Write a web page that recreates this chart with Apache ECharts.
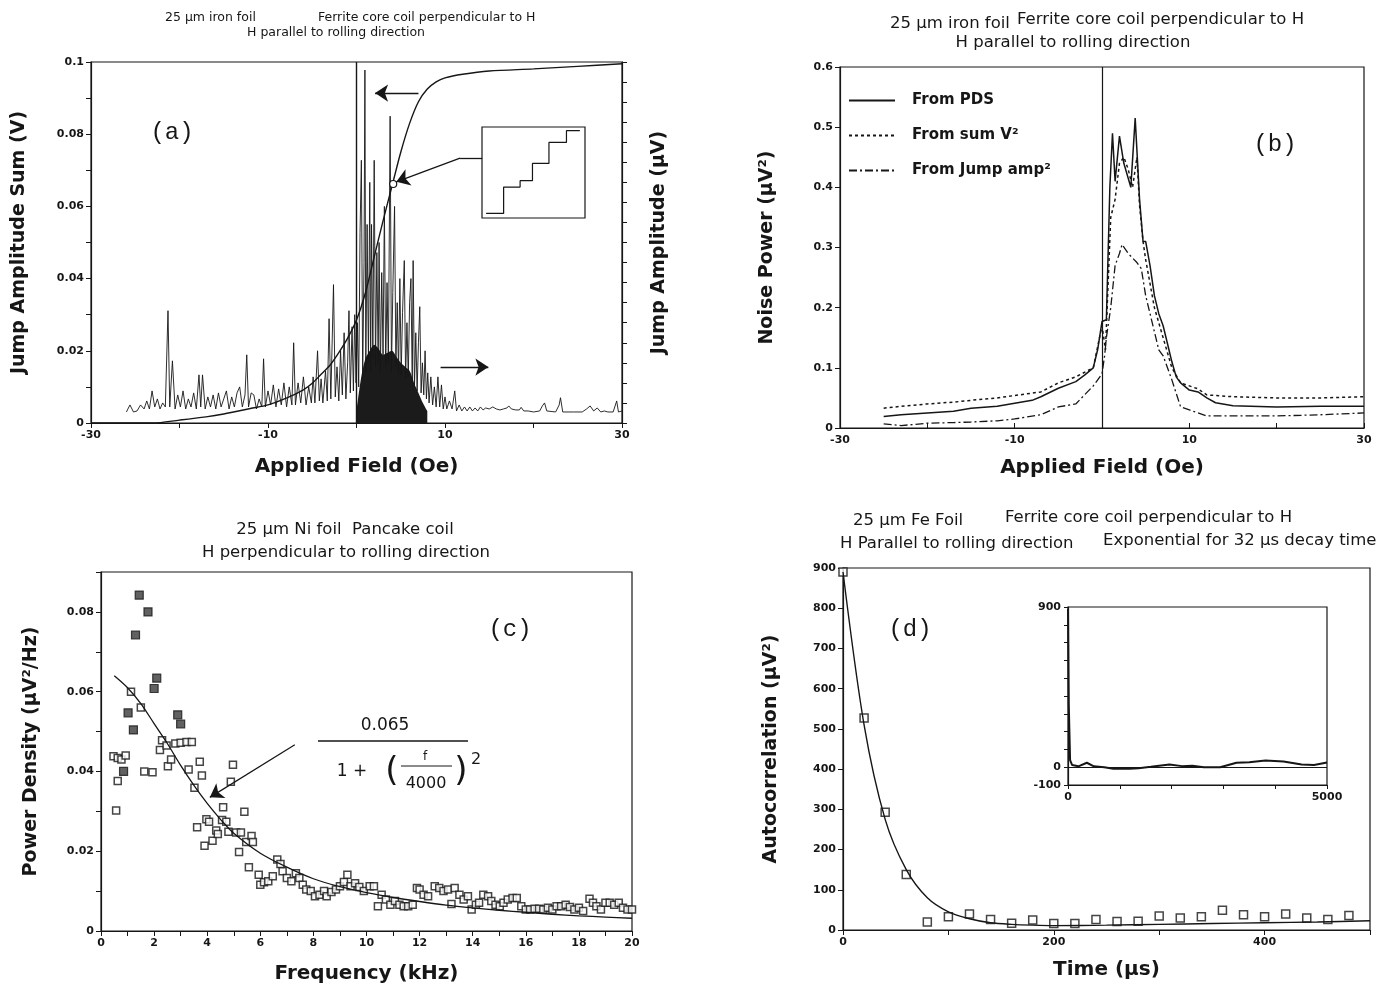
<!DOCTYPE html>
<html>
<head>
<meta charset="utf-8">
<title>Barkhausen noise - four panels</title>
<script src="https://cdn.jsdelivr.net/npm/echarts@6/dist/echarts.min.js"></script>
<style>
  html, body { margin: 0; padding: 0; background: #ffffff; }
  #chart { width: 1388px; height: 985px; }
</style>
</head>
<body>
<div id="chart"></div>
<script>
// ---- panel (a): jump amplitude sum (V) and individual jumps ----
const cumField = [-30, -23, -20, -17, -15, -12, -10, -8, -6, -5, -4, -3, -2, -1, 0, 1, 2, 3, 4, 5, 6, 7, 8, 9, 10, 12, 15, 20, 25, 30];
const cumSum = [0, 0, 0.0008, 0.0017, 0.0025, 0.004, 0.005, 0.0068, 0.0092, 0.011, 0.0135, 0.016, 0.0195, 0.0235, 0.0285, 0.036, 0.046, 0.056, 0.0655, 0.075, 0.083, 0.089, 0.0925, 0.0945, 0.0956, 0.0966, 0.0975, 0.0981, 0.0988, 0.0995];

// jump amplitudes, right axis units (0..18 over the axis height)
const jumpLeft = [
  [-26, 0.55], [-25.6, 0.9], [-25.2, 0.55], [-24.8, 0.6], [-24.4, 0.9], [-24, 0.7], [-23.7, 1.1], [-23.4, 0.7],
  [-23.1, 1.6], [-22.8, 0.8], [-22.5, 1.2], [-22.2, 0.7], [-21.9, 1.0], [-21.6, 0.8], [-21.3, 5.6], [-21.1, 0.8],
  [-20.8, 3.1], [-20.5, 0.7], [-20.2, 1.4], [-19.9, 0.8], [-19.6, 1.6], [-19.3, 0.7], [-19, 1.2], [-18.7, 0.8],
  [-18.4, 1.5], [-18.1, 0.7], [-17.8, 2.4], [-17.6, 0.8], [-17.4, 2.4], [-17.1, 0.7], [-16.8, 1.3], [-16.5, 0.8],
  [-16.2, 1.4], [-15.9, 0.7], [-15.6, 1.5], [-15.3, 0.8], [-15, 1.2], [-14.7, 1.6], [-14.4, 0.7], [-14.1, 1.3],
  [-13.8, 0.8], [-13.5, 1.5], [-13.2, 1.8], [-12.9, 0.8], [-12.6, 1.4], [-12.4, 3.4], [-12.2, 0.8], [-11.9, 1.5],
  [-11.6, 1.4], [-11.3, 0.7], [-11, 1.2], [-10.7, 0.8], [-10.5, 3.2], [-10.3, 0.8], [-10, 1.6], [-9.7, 0.9],
  [-9.4, 1.9], [-9.1, 0.8], [-8.8, 1.7], [-8.5, 0.9], [-8.2, 2.0], [-7.9, 0.8], [-7.6, 1.8], [-7.3, 0.9],
  [-7.1, 4.0], [-6.9, 0.9], [-6.6, 2.0], [-6.3, 1.0], [-6, 2.3], [-5.7, 0.9], [-5.4, 1.8], [-5.1, 1.0],
  [-4.9, 2.3], [-4.7, 1.0], [-4.4, 3.6], [-4.2, 1.1], [-4, 2.2], [-3.8, 1.0], [-3.5, 2.6], [-3.3, 1.1],
  [-3.1, 5.2], [-2.9, 1.2], [-2.6, 6.9], [-2.4, 1.3], [-2.2, 2.8], [-2.0, 1.1], [-1.8, 3.6], [-1.6, 1.4],
  [-1.4, 4.5], [-1.2, 1.2], [-1, 3.0], [-0.85, 5.6], [-0.7, 1.5], [-0.5, 4.8], [-0.35, 1.6], [-0.2, 5.4], [-0.05, 2.0]
];
const jumpCentre = [
  [0.1, 5.0], [0.25, 1.8], [0.4, 9.5], [0.55, 13.1], [0.7, 2.2], [0.85, 8.0], [0.95, 17.6], [1.05, 2.5],
  [1.2, 9.9], [1.35, 3.0], [1.5, 12.0], [1.6, 2.6], [1.7, 9.9], [1.85, 3.2], [2.0, 13.1], [2.15, 2.8],
  [2.3, 8.5], [2.45, 3.0], [2.55, 9.0], [2.7, 2.6], [2.85, 7.5], [3.0, 3.4], [3.15, 10.8], [3.3, 2.8],
  [3.45, 7.0], [3.6, 3.0], [3.8, 15.3], [3.95, 2.6], [4.1, 6.5], [4.3, 10.8], [4.45, 2.8], [4.6, 6.0],
  [4.75, 2.5], [4.9, 7.2], [5.05, 2.4], [5.2, 5.5], [5.4, 8.1], [5.55, 2.2], [5.7, 5.0], [5.85, 2.3],
  [6.0, 6.0], [6.15, 7.2], [6.3, 2.0], [6.4, 8.1], [6.55, 1.8], [6.7, 4.5], [6.85, 1.6], [7.0, 4.0],
  [7.15, 5.8], [7.3, 1.5], [7.45, 3.0], [7.6, 1.4], [7.75, 3.6], [7.9, 1.2], [8.05, 2.5], [8.2, 1.0],
  [8.4, 2.3], [8.6, 0.9], [8.8, 1.8], [9.0, 0.8], [9.2, 2.3], [9.4, 0.8], [9.6, 1.9], [9.8, 0.7],
  [10.0, 1.3], [10.2, 0.7], [10.5, 1.1], [10.8, 0.7], [11.1, 1.6], [11.3, 0.6], [11.6, 0.9], [11.9, 0.6]
];
const jumpRight = [
  [12.2, 0.8], [12.5, 0.6], [12.8, 0.8], [13.1, 0.6], [13.4, 0.75], [13.7, 0.6], [14.0, 0.8], [14.3, 0.65],
  [14.6, 0.75], [15.0, 0.7], [15.4, 0.8], [15.8, 0.7], [16.2, 0.65], [16.6, 0.7], [17.0, 0.75], [17.2, 0.85],
  [17.5, 0.7], [18.0, 0.65], [18.4, 0.65], [18.6, 0.78], [18.9, 0.6], [19.4, 0.6], [20.0, 0.55], [20.7, 0.6],
  [21.0, 0.85], [21.25, 1.0], [21.5, 0.6], [22.5, 0.55], [22.9, 0.9], [23.05, 1.26], [23.3, 0.55], [24.5, 0.55],
  [25.5, 0.55], [26.0, 0.7], [26.4, 0.85], [26.8, 0.6], [27.2, 0.75], [27.6, 0.55], [28.0, 0.6], [28.4, 0.55],
  [29.0, 0.55], [29.4, 1.1], [29.6, 0.55], [30, 0.6]
];
// top of the solid dark core under the dense spikes (right axis units)
const coreField = [0, 0.5, 1, 1.5, 2, 2.5, 3, 3.5, 4, 4.5, 5, 5.5, 6, 6.5, 7, 7.5, 8];
const coreTop = [0.6, 2.2, 3.2, 3.6, 3.9, 3.7, 3.4, 3.5, 3.6, 3.3, 3.0, 2.8, 2.6, 2.0, 1.5, 1.0, 0.6];

// staircase sketch in the small box (arbitrary units 0..10)
const stairX = [0.4, 2.1, 2.1, 3.7, 3.7, 4.9, 4.9, 6.5, 6.5, 8.2, 8.2, 9.5];
const stairY = [0.5, 0.5, 3.4, 3.4, 4.1, 4.1, 6.0, 6.0, 8.3, 8.3, 9.6, 9.6];

// ---- panel (b): noise power (uV^2) ----
const pdsField = [-25, -23, -20, -17, -15, -12, -10, -8, -7, -5, -3, -2, -1, -0.5, 0, 0.5, 0.9, 1.2, 1.5, 2, 2.5, 3.3, 3.8, 4.3, 4.7, 5, 5.5, 6, 6.5, 7, 7.5, 8, 8.5, 9, 10, 11, 12, 13, 15, 20, 25, 30];
const pdsPower = [0.019, 0.022, 0.025, 0.028, 0.033, 0.036, 0.041, 0.046, 0.052, 0.066, 0.077, 0.088, 0.1, 0.13, 0.177, 0.18, 0.4, 0.49, 0.41, 0.485, 0.44, 0.4, 0.515, 0.38, 0.31, 0.31, 0.27, 0.22, 0.19, 0.17, 0.14, 0.11, 0.085, 0.075, 0.063, 0.06, 0.05, 0.042, 0.037, 0.035, 0.036, 0.036];
const sumField = [-25, -23, -20, -17, -15, -12, -10, -7, -5, -3, -1, 0, 0.4, 1, 1.5, 2, 2.5, 3, 3.5, 4, 4.3, 4.7, 5, 6, 7, 8, 9, 10, 11, 12, 15, 20, 25, 30];
const sumPower = [0.033, 0.036, 0.04, 0.043, 0.046, 0.05, 0.054, 0.06, 0.075, 0.085, 0.1, 0.17, 0.13, 0.35, 0.38, 0.44, 0.45, 0.43, 0.4, 0.45, 0.37, 0.31, 0.28, 0.2, 0.15, 0.1, 0.075, 0.07, 0.065, 0.055, 0.052, 0.05, 0.05, 0.052];
const jumpField = [-25, -23, -20, -17, -15, -12, -10, -7, -5, -3, -1, 0, 0.3, 0.5, 1, 1.5, 2, 2.3, 3, 4, 4.5, 5, 6, 6.5, 7, 8, 9, 10, 12, 15, 20, 25, 30];
const jumpPower = [0.007, 0.004, 0.008, 0.009, 0.01, 0.012, 0.015, 0.022, 0.035, 0.04, 0.07, 0.09, 0.12, 0.15, 0.2, 0.27, 0.29, 0.305, 0.29, 0.275, 0.265, 0.22, 0.16, 0.13, 0.12, 0.08, 0.035, 0.03, 0.02, 0.02, 0.02, 0.022, 0.025];

// ---- panel (c): power density (uV^2/Hz) vs frequency (kHz) ----
const fitFreq = [0.5, 1, 1.5, 2, 2.5, 3, 3.5, 4, 4.5, 5, 6, 7, 8, 9, 10, 11, 12, 13, 14, 15, 16, 17, 18, 19, 20];
const fitDensity = [0.064, 0.061, 0.057, 0.052, 0.047, 0.0415, 0.0365, 0.032, 0.028, 0.0245, 0.0195, 0.016, 0.0131, 0.0111, 0.0096, 0.0084, 0.0074, 0.0065, 0.0058, 0.0052, 0.0047, 0.0042, 0.0038, 0.0035, 0.0032];
const filledPoints = [[1.44, 0.0842], [1.77, 0.080], [1.3, 0.0742], [2.1, 0.0634], [2.0, 0.0608], [1.02, 0.0547], [1.22, 0.0504], [2.89, 0.0542], [3.0, 0.0519], [0.85, 0.040]];
const openPoints = [
  [0.47, 0.0438], [0.63, 0.0434], [0.77, 0.043], [0.93, 0.044], [0.63, 0.0376], [0.57, 0.0302], [1.13, 0.060], [1.5, 0.056],
  [1.63, 0.040], [1.94, 0.0398], [2.22, 0.0454], [2.3, 0.0478], [2.47, 0.0465], [2.52, 0.0413], [2.64, 0.043], [2.8, 0.047],
  [3.0, 0.0472], [3.22, 0.0474], [3.42, 0.0474], [3.3, 0.0405], [3.52, 0.0359], [3.72, 0.0424], [3.8, 0.039], [3.62, 0.026],
  [3.97, 0.028], [4.07, 0.0274], [3.9, 0.0214], [4.2, 0.0226], [4.34, 0.0252], [4.4, 0.0243], [4.56, 0.0278], [4.72, 0.0274],
  [4.6, 0.031], [4.89, 0.0374], [4.97, 0.0417], [4.8, 0.0249], [5.09, 0.0247], [5.27, 0.0247], [5.2, 0.0198], [5.4, 0.0299],
  [5.47, 0.0223], [5.67, 0.0238], [5.72, 0.0223], [5.57, 0.016], [5.94, 0.0141], [6.0, 0.0116], [6.14, 0.0122], [6.3, 0.0125],
  [6.47, 0.0137], [6.64, 0.0179], [6.76, 0.0168], [6.84, 0.015], [7.0, 0.0133], [7.17, 0.0125], [7.34, 0.0145], [7.47, 0.0133],
  [7.6, 0.0116], [7.73, 0.0104], [7.9, 0.01], [8.06, 0.0087], [8.23, 0.0091], [8.4, 0.01], [8.5, 0.0087], [8.68, 0.0098],
  [8.85, 0.0104], [9.0, 0.0112], [9.15, 0.0123], [9.28, 0.0141], [9.4, 0.0112], [9.57, 0.012], [9.73, 0.011], [9.9, 0.01],
  [10.12, 0.0112], [10.28, 0.0112], [10.43, 0.0062], [10.57, 0.0091], [10.73, 0.0079], [10.9, 0.0066], [11.07, 0.0075], [11.24, 0.0066],
  [11.4, 0.0062], [11.57, 0.0062], [11.74, 0.0066], [11.9, 0.0108], [12.0, 0.0104], [12.15, 0.0091], [12.32, 0.0087], [12.57, 0.0112],
  [12.74, 0.0108], [12.9, 0.01], [13.07, 0.0104], [13.2, 0.0068], [13.32, 0.0108], [13.5, 0.0091], [13.66, 0.0079], [13.82, 0.0087],
  [13.96, 0.0054], [14.12, 0.0066], [14.24, 0.0071], [14.4, 0.0091], [14.58, 0.0087], [14.7, 0.0075], [14.86, 0.0066], [15.02, 0.0062],
  [15.16, 0.0071], [15.32, 0.0079], [15.5, 0.0083], [15.66, 0.0083], [15.83, 0.0062], [16.0, 0.0054], [16.16, 0.0054], [16.33, 0.0056],
  [16.5, 0.0056], [16.66, 0.0054], [16.83, 0.0058], [17.0, 0.0054], [17.16, 0.0062], [17.33, 0.0062], [17.5, 0.0066], [17.66, 0.006],
  [17.83, 0.0054], [18.0, 0.0058], [18.16, 0.005], [18.4, 0.0081], [18.53, 0.0071], [18.66, 0.0062], [18.83, 0.0054], [19.0, 0.0071],
  [19.16, 0.0071], [19.33, 0.0066], [19.5, 0.0071], [19.66, 0.0058], [19.83, 0.0054], [20.0, 0.0054]
];

// ---- panel (d): autocorrelation (uV^2) vs time (us) ----
const autoTime = [0, 20, 40, 60, 80, 100, 120, 140, 160, 180, 200, 220, 240, 260, 280, 300, 320, 340, 360, 380, 400, 420, 440, 460, 480];
const autoValue = [890, 527, 293, 138, 20, 33, 40, 26, 17, 25, 16, 16, 26, 21, 22, 35, 30, 33, 49, 38, 33, 40, 30, 26, 36];
const expTime = [0, 20, 40, 60, 80, 100, 120, 140, 160, 180, 200, 250, 300, 350, 400, 450, 500];
const expValue = [890, 510, 275, 150, 80, 45, 28, 18, 14, 12, 11, 12, 14, 16, 18, 20, 23];
const insetTime = [0, 15, 40, 80, 200, 364, 500, 700, 875, 1190, 1364, 1600, 1958, 2200, 2400, 2622, 2937, 3252, 3500, 3811, 4160, 4510, 4750, 5000];
const insetValue = [890, 350, 40, 12, 5, 25, 5, 0, -9, -9, -6, 2, 15, 6, 8, 0, 0, 25, 28, 38, 32, 15, 12, 26];

const INK = "#161616";
const SANS = '"DejaVu Sans", "Liberation Sans", Arial, sans-serif';
const MONO = '"Liberation Mono", "DejaVu Sans Mono", monospace';

function zip(xs, ys) {
  return xs.map((x, i) => [x, ys[i]]);
}

// one value axis with the scanned-figure look
function axis(gridIndex, min, max, interval, o) {
  o = o || {};
  return {
    type: "value",
    gridIndex: gridIndex,
    min: min,
    max: max,
    interval: interval,
    position: o.position,
    name: o.name || "",
    nameLocation: "middle",
    nameGap: o.nameGap || 30,
    nameTextStyle: { color: INK, fontFamily: SANS, fontWeight: "bold", fontSize: o.nameSize || 19 },
    axisLine: { show: true, onZero: false, lineStyle: { color: INK, width: 1.2 } },
    axisTick: { show: true, inside: !!o.tickInside, length: o.tickLen || 5, lineStyle: { color: INK, width: 1 } },
    minorTick: o.minor ? { show: true, splitNumber: o.minor, length: o.tickLen || 5, lineStyle: { color: INK, width: 1 } } : { show: false },
    axisLabel: {
      show: o.hideLabels ? false : true,
      color: INK,
      fontFamily: SANS,
      fontWeight: "bold",
      fontSize: o.labelSize || 11,
      margin: 7,
      formatter: o.formatter,
    },
    splitLine: { show: false },
  };
}

function box(left, top, width, height) {
  return { left: left, top: top, width: width, height: height, show: true, borderColor: INK, borderWidth: 1.2, containLabel: false };
}

function label(x, y, text, font, align) {
  return {
    type: "text",
    x: x,
    y: y,
    silent: true,
    style: { text: text, font: font, fill: INK, align: align || "left", textAlign: align || "left", verticalAlign: "middle", textVerticalAlign: "middle" },
  };
}

const chart = echarts.init(document.getElementById("chart"));

const fieldLabel = (v) => (Math.abs(v) % 20 === 10 ? String(v) : "");

const option = {
  animation: false,
  backgroundColor: "#ffffff",
  grid: [
    box(91, 62, 531, 361), // (a)
    box(840, 67, 524, 361), // (b)
    box(101, 572, 531, 360), // (c)
    box(843, 568, 527, 362), // (d)
    box(1068, 607, 259, 178), // (d) inset
    box(482, 127, 103, 91), // (a) staircase box
  ],
  xAxis: [
    axis(0, -30, 30, 10, { name: "Applied Field (Oe)", nameGap: 34, nameSize: 20, formatter: fieldLabel }),
    axis(1, -30, 30, 10, { name: "Applied Field (Oe)", nameGap: 30, nameSize: 20, formatter: fieldLabel, tickInside: true }),
    axis(2, 0, 20, 1, { name: "Frequency (kHz)", nameGap: 33, nameSize: 20, formatter: (v) => (v % 2 === 0 ? String(v) : "") }),
    axis(3, 0, 500, 100, { name: "Time (\u03bcs)", nameGap: 30, nameSize: 20, formatter: (v) => (v % 200 === 0 && v < 500 ? String(v) : "") }),
    axis(4, 0, 5000, 1000, { tickLen: 4, formatter: (v) => (v === 0 || v === 5000 ? String(v) : "") }),
    { type: "value", gridIndex: 5, min: 0, max: 10, show: false },
  ],
  yAxis: [
    axis(0, 0, 0.1, 0.02, { name: "Jump Amplitude Sum (V)", nameGap: 62, minor: 2 }),
    axis(0, 0, 18, 1, { position: "right", name: "Jump Amplitude (\u03bcV)", nameGap: 28, hideLabels: true }),
    axis(1, 0, 0.6, 0.1, { name: "Noise Power (\u03bcV\u00b2)", nameGap: 63 }),
    axis(2, 0, 0.09, 0.02, { name: "Power Density (\u03bcV\u00b2/Hz)", nameGap: 60, minor: 2, formatter: (v) => (v > 0.085 ? "" : String(+v.toFixed(2))) }),
    axis(3, 0, 900, 100, { name: "Autocorrelation (\u03bcV\u00b2)", nameGap: 62 }),
    axis(4, -100, 900, 100, { tickLen: 4, formatter: (v) => (v === -100 || v === 0 || v === 900 ? String(v) : "") }),
    { type: "value", gridIndex: 5, min: 0, max: 10, show: false },
  ],
  legend: {
    data: ["From PDS", "From sum V\u00b2", "From Jump amp\u00b2"],
    orient: "vertical",
    left: 843,
    top: 88,
    itemWidth: 46,
    itemHeight: 14,
    itemGap: 20,
    itemStyle: { opacity: 0 },
    textStyle: { color: INK, fontFamily: SANS, fontWeight: "bold", fontSize: 15, padding: [0, 0, 0, 12] },
  },
  series: [
    // (a) cumulative sum, with the two direction arrows and the zoom call-out
    {
      name: "sum",
      type: "line",
      xAxisIndex: 0,
      yAxisIndex: 0,
      data: zip(cumField, cumSum),
      smooth: 0.3,
      symbol: "none",
      lineStyle: { color: INK, width: 1.4 },
      markPoint: {
        symbol: "circle",
        symbolSize: 7,
        itemStyle: { color: "#ffffff", borderColor: INK, borderWidth: 1.2 },
        label: { show: false },
        data: [{ coord: [4.15, 0.0662] }],
      },
      markLine: {
        silent: true,
        symbol: ["none", "arrow"],
        symbolSize: 13,
        label: { show: false },
        lineStyle: { color: INK, width: 1.3, type: "solid" },
        data: [
          [{ coord: [7.0, 0.0914] }, { coord: [2.1, 0.0914] }],
          [{ coord: [9.5, 0.0155] }, { coord: [14.9, 0.0155] }],
          [{ coord: [14.2, 0.0734], symbol: "none" }, { coord: [11.7, 0.0734], symbol: "none" }],
          [{ coord: [11.7, 0.0734] }, { coord: [4.5, 0.0668] }],
        ],
      },
    },
    // (a) solid dark core of overlapping jumps
    {
      name: "core",
      type: "line",
      xAxisIndex: 0,
      yAxisIndex: 1,
      data: zip(coreField, coreTop),
      smooth: 0.3,
      symbol: "none",
      lineStyle: { width: 0 },
      areaStyle: { color: "#1b1b1b", opacity: 1 },
    },
    // (a) individual jumps
    {
      name: "jumps",
      type: "line",
      xAxisIndex: 0,
      yAxisIndex: 1,
      data: jumpLeft.concat(jumpCentre, jumpRight),
      symbol: "none",
      lineStyle: { color: INK, width: 0.9 },
      markLine: {
        silent: true,
        symbol: "none",
        label: { show: false },
        lineStyle: { color: INK, width: 1.4, type: "solid" },
        data: [{ xAxis: 0 }],
      },
    },
    {
      name: "stairs",
      type: "line",
      xAxisIndex: 5,
      yAxisIndex: 6,
      data: zip(stairX, stairY),
      symbol: "none",
      lineStyle: { color: INK, width: 1.2 },
    },
    // (b) three estimates of noise power
    {
      name: "From PDS",
      type: "line",
      xAxisIndex: 1,
      yAxisIndex: 2,
      data: zip(pdsField, pdsPower),
      symbol: "none",
      color: INK,
      lineStyle: { color: INK, width: 1.5, type: "solid" },
      markLine: {
        silent: true,
        symbol: "none",
        label: { show: false },
        lineStyle: { color: INK, width: 1.2, type: "solid" },
        data: [{ xAxis: 0 }],
      },
    },
    {
      name: "From sum V\u00b2",
      type: "line",
      xAxisIndex: 1,
      yAxisIndex: 2,
      data: zip(sumField, sumPower),
      symbol: "none",
      color: INK,
      lineStyle: { color: INK, width: 1.5, type: [3, 3] },
    },
    {
      name: "From Jump amp\u00b2",
      type: "line",
      xAxisIndex: 1,
      yAxisIndex: 2,
      data: zip(jumpField, jumpPower),
      symbol: "none",
      color: INK,
      lineStyle: { color: INK, width: 1.3, type: [8, 3, 2, 3] },
    },
    // (c) Lorentzian fit, measured points
    {
      name: "fit",
      type: "line",
      xAxisIndex: 2,
      yAxisIndex: 3,
      data: zip(fitFreq, fitDensity),
      smooth: 0.3,
      symbol: "none",
      lineStyle: { color: INK, width: 1.3 },
      markLine: {
        silent: true,
        symbol: ["none", "arrow"],
        symbolSize: 13,
        label: { show: false },
        lineStyle: { color: INK, width: 1.2, type: "solid" },
        data: [[{ coord: [7.3, 0.0467] }, { coord: [4.1, 0.0335] }]],
      },
    },
    {
      name: "open",
      type: "scatter",
      xAxisIndex: 2,
      yAxisIndex: 3,
      data: openPoints,
      symbol: "rect",
      symbolSize: 7,
      itemStyle: { color: "#ffffff", borderColor: INK, borderWidth: 1.5 },
    },
    {
      name: "filled",
      type: "scatter",
      xAxisIndex: 2,
      yAxisIndex: 3,
      data: filledPoints,
      symbol: "rect",
      symbolSize: 8,
      itemStyle: { color: "#3a3a3a", borderColor: INK, borderWidth: 1.2 },
    },
    // (d) exponential decay and measured autocorrelation
    {
      name: "exp",
      type: "line",
      xAxisIndex: 3,
      yAxisIndex: 4,
      data: zip(expTime, expValue),
      smooth: 0.3,
      symbol: "none",
      lineStyle: { color: INK, width: 1.4 },
    },
    {
      name: "auto",
      type: "scatter",
      xAxisIndex: 3,
      yAxisIndex: 4,
      data: zip(autoTime, autoValue),
      symbol: "rect",
      symbolSize: 8,
      itemStyle: { color: "#ffffff", borderColor: INK, borderWidth: 1.5 },
    },
    {
      name: "inset",
      type: "line",
      xAxisIndex: 4,
      yAxisIndex: 5,
      data: zip(insetTime, insetValue),
      symbol: "none",
      lineStyle: { color: INK, width: 2 },
      markLine: {
        silent: true,
        symbol: "none",
        label: { show: false },
        lineStyle: { color: INK, width: 1.1, type: "solid" },
        data: [{ yAxis: 0 }],
      },
    },
  ],
  graphic: [
    // titles
    label(165, 18, "25 \u03bcm iron foil", "12.5px " + SANS),
    label(318, 18, "Ferrite core coil perpendicular to H", "12.5px " + SANS),
    label(336, 33, "H parallel to rolling direction", "12.5px " + SANS, "center"),
    label(890, 24, "25 \u03bcm iron foil", "16.5px " + SANS),
    label(1017, 20, "Ferrite core coil perpendicular to H", "16.5px " + SANS),
    label(1073, 43, "H parallel to rolling direction", "16.5px " + SANS, "center"),
    label(345, 530, "25 \u03bcm Ni foil  Pancake coil", "16.5px " + SANS, "center"),
    label(346, 553, "H perpendicular to rolling direction", "16.5px " + SANS, "center"),
    label(853, 521, "25 \u03bcm Fe Foil", "16.5px " + SANS),
    label(1005, 518, "Ferrite core coil perpendicular to H", "16.5px " + SANS),
    label(840, 544, "H Parallel to rolling direction", "16.5px " + SANS),
    label(1103, 541, "Exponential for 32 \u03bcs decay time", "16.5px " + SANS),
    // panel letters
    label(172, 133, "(a)", "24px " + MONO, "center"),
    label(1275, 145, "(b)", "24px " + MONO, "center"),
    label(510, 630, "(c)", "24px " + MONO, "center"),
    label(910, 630, "(d)", "24px " + MONO, "center"),
    // fit formula in (c)
    label(385, 726, "0.065", "17px " + SANS, "center"),
    { type: "line", silent: true, shape: { x1: 318, y1: 741, x2: 468, y2: 741 }, style: { stroke: INK, lineWidth: 1.3 } },
    label(352, 772, "1 +", "17px " + SANS, "center"),
    label(392, 772, "(", "34px " + SANS, "center"),
    label(425, 757, "f", "12px " + SANS, "center"),
    { type: "line", silent: true, shape: { x1: 401, y1: 766, x2: 452, y2: 766 }, style: { stroke: INK, lineWidth: 1 } },
    label(426, 784, "4000", "16px " + SANS, "center"),
    label(461, 772, ")", "34px " + SANS, "center"),
    label(476, 760, "2", "16px " + SANS, "center"),
  ],
};

chart.setOption(option);
</script>
</body>
</html>
